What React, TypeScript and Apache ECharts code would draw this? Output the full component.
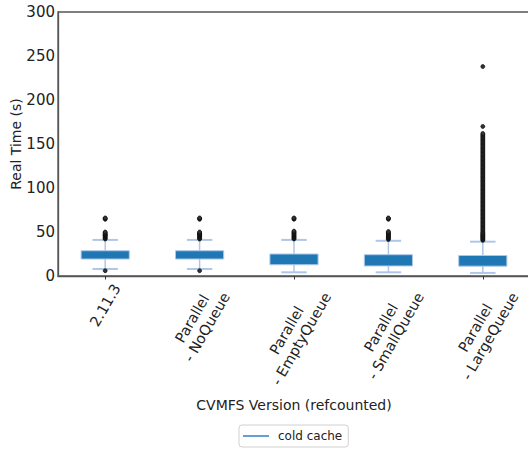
import React, { useEffect, useRef } from "react";
import * as echarts from "echarts";

const categories = [
  "2.11.3",
  "Parallel\n- NoQueue",
  "Parallel\n- EmptyQueue",
  "Parallel\n- SmallQueue",
  "Parallel\n- LargeQueue",
];
const yTicks = { min: 0, max: 300, interval: 50 };
// [low whisker, Q1, median, Q3, high whisker]
const boxLow = [8, 8, 4.2, 4.2, 3.5];
const boxQ1 = [19.3, 19.3, 12.8, 11.4, 11.2];
const boxMedian = [24, 24, 19, 17.5, 17];
const boxQ3 = [28.7, 28.7, 25, 24.2, 23.3];
const boxHigh = [41, 41, 41, 40, 39];
const outliers0 = [6, 42, 43, 44, 45, 46, 46.5, 47, 48, 49, 50, 64.5, 65.3, 66];
const outliers1 = [6, 42, 43, 44, 45, 46, 47, 47.5, 48, 49, 50, 64.5, 65.3, 66];
const outliers2 = [42, 43, 44, 45, 46, 47, 48, 49, 50, 51, 64.5, 65.3, 66];
const outliers3 = [41.5, 42.5, 43.5, 44.5, 45.5, 46.5, 47.5, 48.5, 49.5, 50.5, 64.5, 65.3, 66];
const outliers4 = [
  40.5, 41.5, 42.5, 43.5, 44.5, 45.5, 46.5, 47.5, 48.5, 49.5, 51, 52.5, 54, 55.5, 57,
  58.5, 60, 61.5, 63, 64.5, 66, 67.5, 69, 70.5, 72, 73.5, 75, 76.5, 78, 79.5, 81, 82.5,
  84, 85.5, 87, 88.5, 90, 91.5, 93, 94.5, 96, 97.5, 99, 100.5, 102, 103.5, 105, 106.5,
  108, 109.5, 111, 112.5, 114, 115.5, 117, 118.5, 120, 121.5, 123, 124.5, 126, 127.5,
  129, 130.5, 132, 133.5, 135, 136.5, 138, 139.5, 141, 142.5, 144, 145.5, 147, 148.5,
  150, 151.5, 153, 154.5, 156, 157.5, 159, 160.5, 162, 170, 238,
];
const outlierLists = [outliers0, outliers1, outliers2, outliers3, outliers4];
const legendName = "cold cache";
const xName = "CVMFS Version (refcounted)";
const yName = "Real Time (s)";

const FONT = '"DejaVu Sans", "Liberation Sans", sans-serif';
const XLABEL_SIZE = 14.5;
const LINE_H = 17;

let measureCtx: CanvasRenderingContext2D | null = null;
function measure(text: string): number {
  if (!measureCtx) measureCtx = document.createElement("canvas").getContext("2d");
  if (!measureCtx) return text.length * XLABEL_SIZE * 0.6;
  measureCtx.font = `${XLABEL_SIZE}px ${FONT}`;
  return measureCtx.measureText(text).width;
}

export default function App() {
  const ref = useRef<HTMLDivElement>(null);
  useEffect(() => {
    if (!ref.current) return;
    const chart = echarts.init(ref.current, undefined, { renderer: "svg" });
    const boxData = categories.map((_, i) => [i, boxLow[i], boxQ1[i], boxMedian[i], boxQ3[i], boxHigh[i]]);
    const outData: number[][] = [];
    outlierLists.forEach((list, i) => list.forEach((v) => outData.push([i, v])));
    const whisk = "#aec7e8";
    const fill = "#1f77b4";

    chart.setOption({
      animation: false,
      grid: {
        left: 58,
        right: -2,
        top: 12,
        bottom: 173,
        containLabel: false,
        outerBoundsMode: "none",
        show: true,
        borderColor: "#555",
        borderWidth: 1.3,
      },
      legend: {
        data: [{ name: legendName, icon: "rect", itemStyle: { color: "#3f87c9" } }],
        left: 239,
        top: 425,
        width: 110,
        itemWidth: 26,
        itemHeight: 1.6,
        padding: [5, 6, 5, 4],
        borderColor: "#d0d0d0",
        borderWidth: 1,
        borderRadius: 3,
        textStyle: { fontFamily: FONT, fontSize: 12, color: "#222", padding: [0, 0, 0, 4] },
        selectedMode: false,
      },
      xAxis: {
        type: "category",
        data: categories,
        boundaryGap: true,
        name: xName,
        nameLocation: "middle",
        nameGap: 122,
        nameMoveOverlap: false,
        nameTextStyle: { fontFamily: FONT, fontSize: 14, color: "#222" },
        axisLine: { show: true, lineStyle: { color: "#555", width: 1.3 } },
        axisTick: { show: true, alignWithLabel: true, length: 3.5, lineStyle: { color: "#333" } },
        axisLabel: { show: false },
        splitLine: { show: false },
      },
      yAxis: {
        type: "value",
        min: yTicks.min,
        max: yTicks.max,
        interval: yTicks.interval,
        name: yName,
        nameLocation: "middle",
        nameGap: 35,
        nameMoveOverlap: false,
        nameTextStyle: { fontFamily: FONT, fontSize: 14, color: "#222" },
        axisLine: { show: true, lineStyle: { color: "#555", width: 1.3 } },
        axisTick: { show: false },
        axisLabel: { fontFamily: FONT, fontSize: 15, color: "#222", margin: 3 },
        splitLine: { show: false },
      },
      series: [
        {
          name: legendName,
          type: "custom",
          data: boxData,
          encode: { x: 0, y: [1, 2, 3, 4, 5] },
          itemStyle: { color: "#3f87c9" },
          renderItem: (params: any, api: any) => {
            const x = api.value(0);
            const lo = api.coord([x, api.value(1)]);
            const q1 = api.coord([x, api.value(2)]);
            const med = api.coord([x, api.value(3)]);
            const q3 = api.coord([x, api.value(4)]);
            const hi = api.coord([x, api.value(5)]);
            const cx = lo[0];
            const band = api.size([1, 0])[0];
            const bw = band * 0.51;
            const cw = band * 0.27;
            return {
              type: "group",
              children: [
                { type: "line", shape: { x1: cx, y1: q1[1], x2: cx, y2: lo[1] }, style: { stroke: whisk, lineWidth: 1.5 } },
                { type: "line", shape: { x1: cx, y1: q3[1], x2: cx, y2: hi[1] }, style: { stroke: whisk, lineWidth: 1.5 } },
                { type: "line", shape: { x1: cx - cw / 2, y1: lo[1], x2: cx + cw / 2, y2: lo[1] }, style: { stroke: whisk, lineWidth: 2 } },
                { type: "line", shape: { x1: cx - cw / 2, y1: hi[1], x2: cx + cw / 2, y2: hi[1] }, style: { stroke: whisk, lineWidth: 2 } },
                { type: "rect", shape: { x: cx - bw / 2, y: q3[1], width: bw, height: q1[1] - q3[1] }, style: { fill, stroke: whisk, lineWidth: 1 } },
                { type: "line", shape: { x1: cx - bw / 2 + 1, y1: med[1], x2: cx + bw / 2 - 1, y2: med[1] }, style: { stroke: fill, lineWidth: 1.5 } },
              ],
            };
          },
          z: 2,
        },
        {
          name: "outliers",
          type: "scatter",
          data: outData,
          symbol: "circle",
          symbolSize: 4,
          itemStyle: { color: "#333", borderColor: "#000", borderWidth: 0.6, opacity: 1 },
          z: 3,
        },
        {
          name: "labels",
          type: "custom",
          data: categories.map((_, i) => [i, 0]),
          encode: { x: 0, y: 1 },
          clip: false,
          silent: true,
          renderItem: (params: any, api: any) => {
            const p = api.coord([api.value(0), 0]);
            const text = categories[params.dataIndex];
            const lines = text.split("\n");
            const L = Math.max(...lines.map(measure));
            const h = lines.length * LINE_H;
            const ang = Math.PI / 3;
            const H = L * Math.sin(ang) + h * Math.cos(ang);
            const cx = p[0];
            const cy = p[1] + 5 + H / 2;
            // text block drawn top-aligned: shift origin so that the block centre lands on (cx, cy)
            const ox = cx - (h / 2) * Math.sin(ang);
            const oy = cy - (h / 2) * Math.cos(ang);
            return {
              type: "text",
              x: ox,
              y: oy,
              rotation: ang,
              style: {
                text,
                font: `${XLABEL_SIZE}px ${FONT}`,
                lineHeight: LINE_H,
                align: "center",
                verticalAlign: "top",
                fill: "#222",
              },
            };
          },
        },
      ],
    });
    return () => chart.dispose();
  }, []);
  return <div ref={ref} style={{ position: "absolute", left: 0, top: 0, width: 528, height: 449 }} />;
}
